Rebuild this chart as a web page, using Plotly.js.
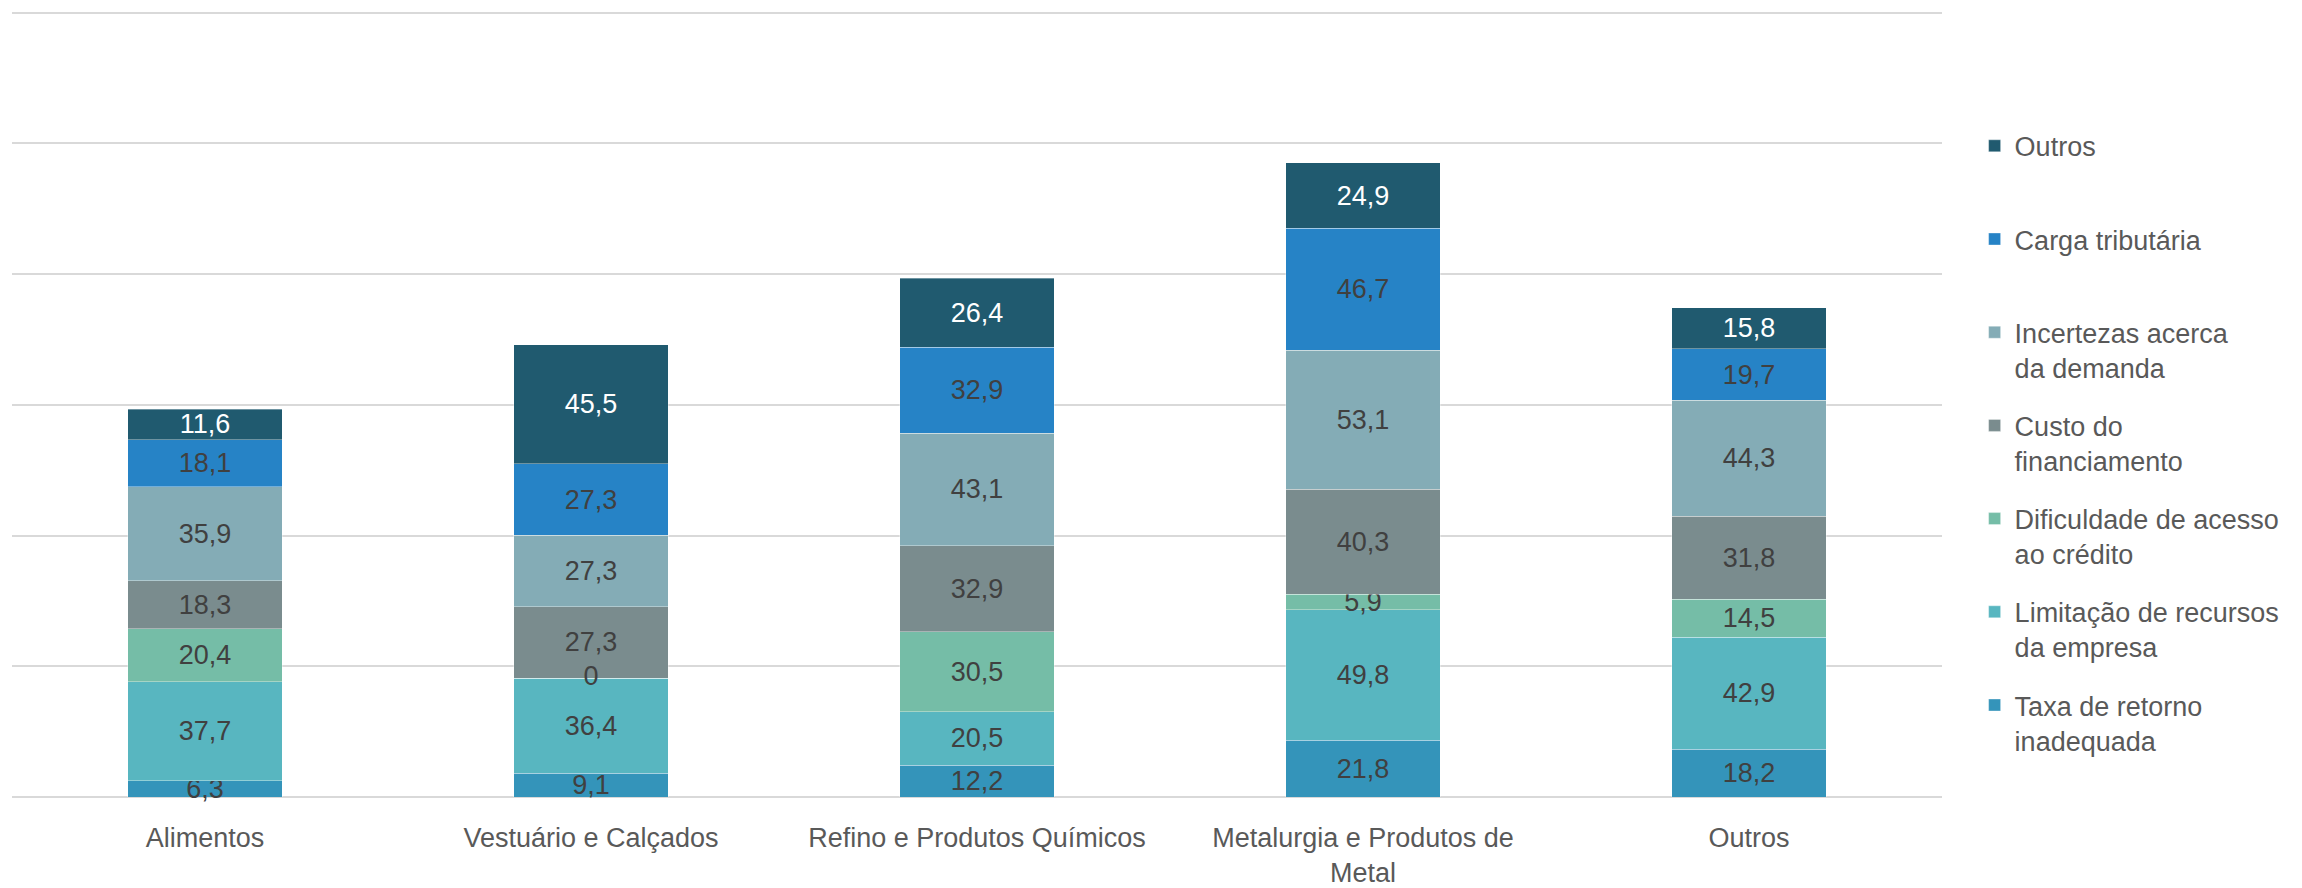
<!DOCTYPE html>
<html>
<head>
<meta charset="utf-8">
<script src="https://cdn.plot.ly/plotly-3.0.1.min.js"></script>
<style>
html,body{margin:0;padding:0;background:#fff;}
#chart{width:2302px;height:888px;}
</style>
</head>
<body>
<div id="chart"></div>
<script>
// Categories (x axis)
const categories = ["Alimentos", "Vestuário e Calçados", "Refino e Produtos Químicos", "Metalurgia e Produtos de<br>Metal", "Outros"];

// Series values (stack order bottom -> top)
const taxaRetorno = [6.3, 9.1, 12.2, 21.8, 18.2];
const limitacaoRecursos = [37.7, 36.4, 20.5, 49.8, 42.9];
const dificuldadeCredito = [20.4, 0, 30.5, 5.9, 14.5];
const custoFinanciamento = [18.3, 27.3, 32.9, 40.3, 31.8];
const incertezasDemanda = [35.9, 27.3, 43.1, 53.1, 44.3];
const cargaTributaria = [18.1, 27.3, 32.9, 46.7, 19.7];
const outros = [11.6, 45.5, 26.4, 24.9, 15.8];

// Series names (legend)
const seriesNames = [
  "Taxa de retorno<br>inadequada",
  "Limitação de recursos<br>da empresa",
  "Dificuldade de acesso<br>ao crédito",
  "Custo do<br>financiamento",
  "Incertezas acerca<br>da demanda",
  "Carga tributária<br>\u00a0",
  "Outros<br>\u00a0"
];
const seriesValues = [taxaRetorno, limitacaoRecursos, dificuldadeCredito, custoFinanciamento, incertezasDemanda, cargaTributaria, outros];
const seriesColors = ["#3494BA", "#58B6C0", "#75BDA7", "#7A8C8E", "#84ACB6", "#2683C6", "#205A6F"];
const labelColors = ["#404040", "#404040", "#404040", "#404040", "#404040", "#404040", "#FFFFFF"];

const FONT = "'Liberation Sans', Arial, sans-serif";
const fmt = v => String(v).replace(".", ",");

const traces = seriesValues.map((vals, i) => ({
  type: "bar",
  name: seriesNames[i],
  legendgroup: "g" + i,
  legendrank: 100 - i,
  x: categories,
  y: vals,
  text: vals.map(fmt),
  textposition: "inside",
  insidetextanchor: "middle",
  constraintext: "none",
  textangle: 0,
  textfont: {family: FONT, size: 27, color: labelColors[i]},
  marker: {color: seriesColors[i], line: {color: "rgba(255,255,255,0.35)", width: 1}},
  hoverinfo: "skip",
  cliponaxis: false
}));

// Labels for zero-height segments (Plotly hides text of empty bars)
const zeroX = [], zeroY = [], zeroT = [];
seriesValues.forEach((vals, i) => {
  vals.forEach((v, j) => {
    if (v === 0) {
      let base = 0;
      for (let k = 0; k < i; k++) base += seriesValues[k][j];
      zeroX.push(categories[j]);
      zeroY.push(base);
      zeroT.push(fmt(v));
    }
  });
});
traces.push({
  type: "scatter",
  mode: "text",
  x: zeroX,
  y: zeroY,
  text: zeroT,
  textposition: "middle center",
  textfont: {family: FONT, size: 27, color: "#404040"},
  showlegend: false,
  hoverinfo: "skip",
  cliponaxis: false
});

const layout = {
  width: 2302,
  height: 888,
  paper_bgcolor: "#ffffff",
  plot_bgcolor: "#ffffff",
  barmode: "stack",
  bargap: 0.6,
  margin: {l: 12, r: 360, t: 10, b: 91, pad: 0},
  font: {family: FONT, color: "#595959", size: 27},
  showlegend: true,
  legend: {
    x: 1.0169, xanchor: "left",
    y: 0.858, yanchor: "top",
    traceorder: "grouped",
    valign: "top",
    tracegroupgap: 20,
    font: {family: FONT, size: 27, color: "#595959"},
    bgcolor: "rgba(0,0,0,0)",
    itemclick: false
  },
  xaxis: {
    type: "category",
    showgrid: false,
    showline: false,
    zeroline: false,
    ticks: "",
    tickfont: {family: FONT, size: 27, color: "#595959"},
    ticklabelstandoff: 22
  },
  yaxis: {
    range: [0, 301],
    tick0: 0,
    dtick: 50,
    showticklabels: false,
    showgrid: true,
    gridcolor: "#D9D9D9",
    gridwidth: 2,
    zeroline: true,
    zerolinecolor: "#D9D9D9",
    zerolinewidth: 2,
    showline: false,
    ticks: ""
  }
};

Plotly.newPlot("chart", traces, layout, {displayModeBar: false, staticPlot: true});
</script>
</body>
</html>
